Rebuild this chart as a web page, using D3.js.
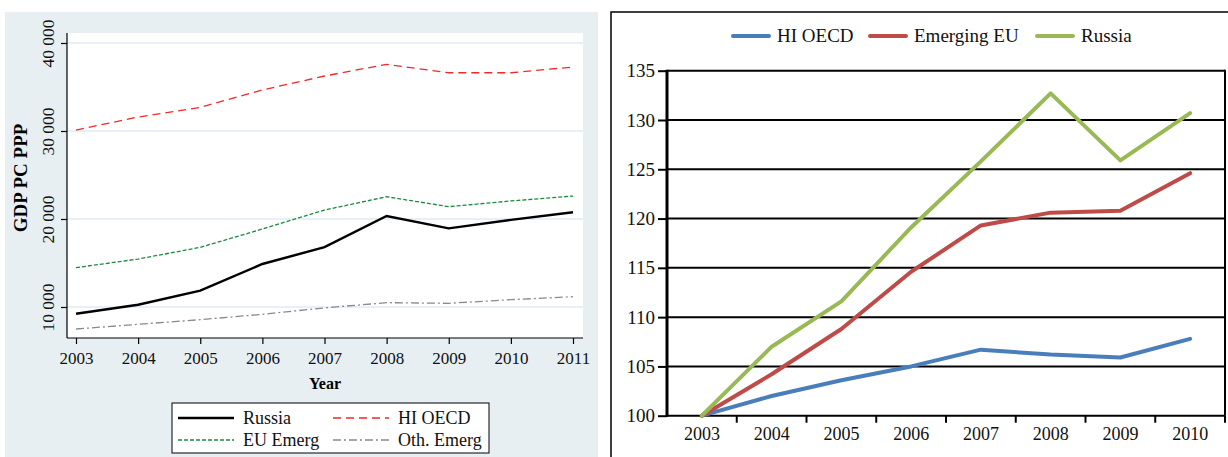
<!DOCTYPE html>
<html>
<head>
<meta charset="utf-8">
<script src="https://cdn.jsdelivr.net/npm/d3@7"></script>
<style>
  body { margin: 0; background: #fff; }
  svg { display: block; font-family: "Liberation Serif", "DejaVu Serif", serif; }
</style>
</head>
<body>
<div id="chart"></div>
<script>
// ---- left panel data (GDP per capita, PPP) ----
var yearsLeft = [2003, 2004, 2005, 2006, 2007, 2008, 2009, 2010, 2011];
var russiaGdp = [9240, 10260, 11850, 14890, 16800, 20340, 18940, 19900, 20760];
var hiOecdGdp = [30110, 31590, 32690, 34660, 36250, 37580, 36620, 36620, 37270];
var euEmergGdp = [14470, 15450, 16780, 18860, 21020, 22530, 21400, 22050, 22610];
var othEmergGdp = [7500, 8030, 8560, 9170, 9900, 10490, 10420, 10830, 11170];
var leftTicks = [10000, 20000, 30000, 40000];

// ---- right panel data (index, 2003 = 100) ----
var yearsRight = ["2003", "2004", "2005", "2006", "2007", "2008", "2009", "2010"];
var hiOecdIdx = [100, 102.0, 103.6, 105.0, 106.7, 106.2, 105.9, 107.8];
var emergEuIdx = [100, 104.2, 108.8, 114.6, 119.3, 120.6, 120.8, 124.6];
var russiaIdx = [100, 107.0, 111.6, 119.1, 125.8, 132.7, 125.9, 130.7];
var rightTicks = [100, 105, 110, 115, 120, 125, 130, 135];

var W = 1228, H = 457;
var svg = d3.select("#chart").append("svg").attr("width", W).attr("height", H);

// ================= LEFT PANEL =================
svg.append("rect").attr("x", 5).attr("y", 12).attr("width", 593).attr("height", H - 12)
   .attr("fill", "#e8eff2");

var lm = { left: 67, right: 583, top: 33, bottom: 338 };
svg.append("rect").attr("x", lm.left).attr("y", lm.top)
   .attr("width", lm.right - lm.left).attr("height", lm.bottom - lm.top).attr("fill", "#fff");

var xL = d3.scaleLinear().domain([2003, 2011]).range([76, 573]);
var yL = d3.scaleLinear().domain([10000, 40000]).range([307, 43]);

// gridlines
svg.append("g").selectAll("line").data(leftTicks).enter().append("line")
   .attr("x1", lm.left).attr("x2", lm.right)
   .attr("y1", function(d){ return yL(d); }).attr("y2", function(d){ return yL(d); })
   .attr("stroke", "#dcebf4").attr("stroke-width", 1.5);

var fmt = function(d){ return d3.format(",")(d).replace(",", " "); };

var yAxisL = svg.append("g").attr("transform", "translate(" + lm.left + ",0)")
   .call(d3.axisLeft(yL).tickValues(leftTicks).tickSize(6).tickPadding(4).tickFormat(fmt));
yAxisL.select(".domain").attr("d", "M0," + lm.top + "V" + lm.bottom).attr("stroke", "#000").attr("stroke-width", 1.2);
yAxisL.selectAll(".tick line").attr("stroke", "#000").attr("stroke-width", 1.2);
yAxisL.selectAll(".tick text")
   .attr("x", 0).attr("dy", 0)
   .attr("transform", "translate(-13,0) rotate(-90)")
   .attr("text-anchor", "middle")
   .attr("font-size", 17.5).attr("font-family", "Liberation Serif").attr("fill", "#111");

var xAxisL = svg.append("g").attr("transform", "translate(0," + lm.bottom + ")")
   .call(d3.axisBottom(xL).tickValues(yearsLeft).tickSize(6).tickPadding(8).tickFormat(d3.format("d")));
xAxisL.select(".domain").attr("d", "M" + lm.left + ",0H" + lm.right).attr("stroke", "#000").attr("stroke-width", 1.2);
xAxisL.selectAll(".tick line").attr("stroke", "#000").attr("stroke-width", 1.2);
xAxisL.selectAll(".tick text").attr("font-size", 17).attr("font-family", "Liberation Serif").attr("fill", "#111");

svg.append("text").attr("x", (lm.left + lm.right) / 2).attr("y", 389)
   .attr("text-anchor", "middle").attr("font-size", 16).attr("font-weight", "bold").text("Year");
svg.append("text").attr("transform", "translate(27,178) rotate(-90)")
   .attr("text-anchor", "middle").attr("font-size", 19).attr("font-weight", "bold").text("GDP PC PPP");

var leftSeries = [
  { name: "Russia", values: russiaGdp, color: "#000", width: 2.4, dash: null },
  { name: "HI OECD", values: hiOecdGdp, color: "#ee2a2a", width: 1.3, dash: "8,5" },
  { name: "EU Emerg", values: euEmergGdp, color: "#1b8a40", width: 1.3, dash: "4,2" },
  { name: "Oth. Emerg", values: othEmergGdp, color: "#8a8a8a", width: 1.3, dash: "8,3,2,3" }
];

var lineL = d3.line()
   .x(function(d, i){ return xL(yearsLeft[i]); })
   .y(function(d){ return yL(d); });

svg.append("g").selectAll("path").data(leftSeries).enter().append("path")
   .attr("d", function(s){ return lineL(s.values); })
   .attr("fill", "none")
   .attr("stroke", function(s){ return s.color; })
   .attr("stroke-width", function(s){ return s.width; })
   .attr("stroke-dasharray", function(s){ return s.dash; });

// legend box
svg.append("rect").attr("x", 172).attr("y", 403).attr("width", 317).attr("height", 50)
   .attr("fill", "#fff").attr("stroke", "#000").attr("stroke-width", 1);
var legPos = [[178, 418], [333, 418], [178, 440], [333, 440]];
var legL = svg.append("g").selectAll("g").data(leftSeries).enter().append("g")
   .attr("transform", function(d, i){ return "translate(" + legPos[i][0] + "," + legPos[i][1] + ")"; });
legL.append("line").attr("x1", 0).attr("x2", 56).attr("y1", 0).attr("y2", 0)
   .attr("stroke", function(s){ return s.color; })
   .attr("stroke-width", function(s){ return s.width; })
   .attr("stroke-dasharray", function(s){ return s.dash; });
legL.append("text").attr("x", 65).attr("y", 6).attr("font-size", 18).attr("fill", "#111")
   .text(function(s){ return s.name; });

// ================= RIGHT PANEL =================
svg.append("rect").attr("x", 611).attr("y", 12).attr("width", 640).attr("height", 480)
   .attr("fill", "#fff").attr("stroke", "#000").attr("stroke-width", 1.5);

var rm = { left: 667, right: 1225, top: 70.7, bottom: 415.7 };
var xR = d3.scaleBand().domain(yearsRight).range([rm.left, rm.right]);
var yR = d3.scaleLinear().domain([100, 135]).range([rm.bottom, rm.top]);

svg.append("g").selectAll("line").data(rightTicks).enter().append("line")
   .attr("x1", rm.left).attr("x2", rm.right)
   .attr("y1", function(d){ return yR(d); }).attr("y2", function(d){ return yR(d); })
   .attr("stroke", "#000").attr("stroke-width", 2);
svg.append("line").attr("x1", rm.right).attr("x2", rm.right).attr("y1", rm.top - 1).attr("y2", rm.bottom)
   .attr("stroke", "#000").attr("stroke-width", 2);

var yAxisR = svg.append("g").attr("transform", "translate(" + rm.left + ",0)")
   .call(d3.axisLeft(yR).tickValues(rightTicks).tickSize(9).tickPadding(3));
yAxisR.select(".domain").attr("d", "M0," + (rm.top - 1) + "V" + (rm.bottom + 1)).attr("stroke", "#000").attr("stroke-width", 3);
yAxisR.selectAll(".tick line").attr("stroke", "#000").attr("stroke-width", 2);
yAxisR.selectAll(".tick text").attr("font-size", 19).attr("font-family", "Liberation Serif").attr("fill", "#111");

var xAxisR = svg.append("g").attr("transform", "translate(0," + rm.bottom + ")")
   .call(d3.axisBottom(xR).tickSize(0).tickPadding(12));
xAxisR.select(".domain").remove();
xAxisR.selectAll(".tick text").attr("font-size", 18).attr("font-family", "Liberation Serif").attr("fill", "#111");
// category separators on x axis
var sepYears = yearsRight.slice(1).concat(["end"]);
svg.append("g").selectAll("line").data(sepYears).enter().append("line")
   .attr("x1", function(d){ return d === "end" ? rm.right : xR(d); })
   .attr("x2", function(d){ return d === "end" ? rm.right : xR(d); })
   .attr("y1", rm.bottom).attr("y2", rm.bottom + 7)
   .attr("stroke", "#000").attr("stroke-width", 2);

var rightSeries = [
  { name: "HI OECD", values: hiOecdIdx, color: "#4a7ebb" },
  { name: "Emerging EU", values: emergEuIdx, color: "#be4b48" },
  { name: "Russia", values: russiaIdx, color: "#98b954" }
];

var lineR = d3.line()
   .x(function(d, i){ return xR(yearsRight[i]) + xR.bandwidth() / 2; })
   .y(function(d){ return yR(d); });

svg.append("g").selectAll("path").data(rightSeries).enter().append("path")
   .attr("d", function(s){ return lineR(s.values); })
   .attr("fill", "none")
   .attr("stroke", function(s){ return s.color; })
   .attr("stroke-width", 4)
   .attr("stroke-linejoin", "round")
   .attr("stroke-linecap", "round");

var legRx = [733, 870, 1037];
var legR = svg.append("g").selectAll("g").data(rightSeries).enter().append("g")
   .attr("transform", function(d, i){ return "translate(" + legRx[i] + ",36)"; });
legR.append("line").attr("x1", 0).attr("x2", 36).attr("y1", 0).attr("y2", 0)
   .attr("stroke", function(s){ return s.color; }).attr("stroke-width", 4).attr("stroke-linecap", "round");
legR.append("text").attr("x", 44).attr("y", 6).attr("font-size", 19).attr("fill", "#111")
   .text(function(s){ return s.name; });
</script>
</body>
</html>
